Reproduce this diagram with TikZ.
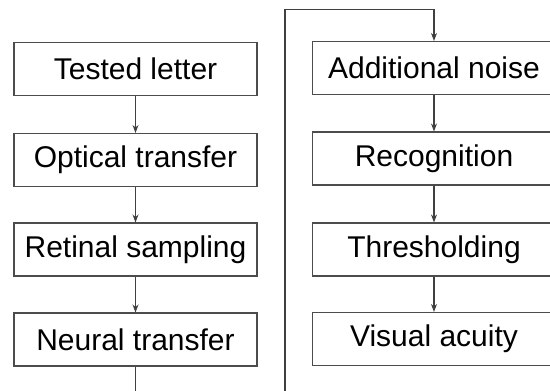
\documentclass[tikz,border=0pt]{standalone}
\usepackage{fontspec}
\setmainfont{Liberation Sans}
\usetikzlibrary{arrows.meta}
\begin{document}
\begin{tikzpicture}[x=1pt,y=-1pt,
  stage/.style={draw=black!70,line width=1.1pt,minimum width=243pt,minimum height=53pt,
    inner sep=0pt,font=\fontsize{30}{36}\selectfont},
  flow/.style={draw=black!75,line width=1.1pt,-{Stealth[length=8pt,width=6pt]}}]
\useasboundingbox (0,0) rectangle (550,391);
\clip (0,0) rectangle (550,391);
% left column
\node[stage] (tested) at (135.5,69) {Tested letter};
\node[stage] (optical) at (135.5,160) {Optical transfer};
\node[stage] (retinal) at (135.5,249.5) {Retinal sampling};
\node[stage] (neural) at (135.5,339.5) {Neural transfer};
% right column
\node[stage] (noise) at (434,68) {Additional noise};
\node[stage] (recog) at (434,158.5) {Recognition};
\node[stage] (thresh) at (434,249.5) {Thresholding};
\node[stage] (acuity) at (434,339) {Visual acuity};
\draw[flow] (tested) -- (optical);
\draw[flow] (optical) -- (retinal);
\draw[flow] (retinal) -- (neural);
\draw[flow] (noise) -- (recog);
\draw[flow] (recog) -- (thresh);
\draw[flow] (thresh) -- (acuity);
% loop back up to the right column
\coordinate (turn) at (285,9.3);
\draw[flow] (neural.south) -- ++(0,50) -| (turn) -| (noise.north);
\end{tikzpicture}
\end{document}
